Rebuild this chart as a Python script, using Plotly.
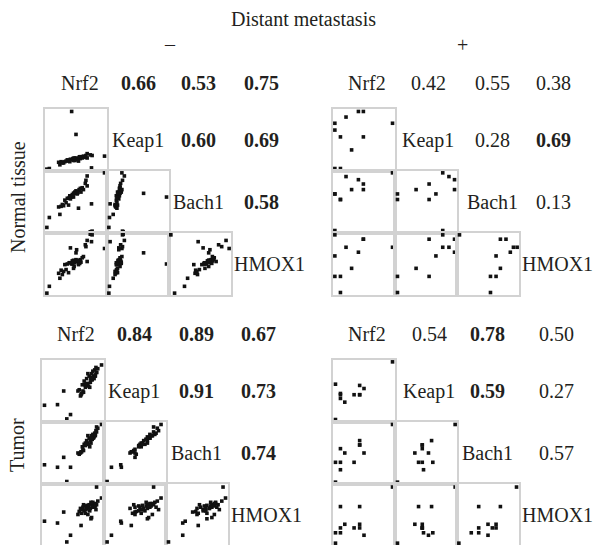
import plotly.graph_objects as go

GENES = ["Nrf2", "Keap1", "Bach1", "HMOX1"]
ROW_TITLES = ["Normal tissue", "Tumor"]
COL_TITLES = ["–", "+"]
HEADER = "Distant metastasis"

# ---- sample values (relative expression) ----
# Normal tissue, distant metastasis −
NN_NRF2 = [.43, .50, .96, .03, .07, .75, .73, .68, .24, .22, .26, .30, .34, .38, .41, .40, .44, .46, .48, .50, .52,
           .54, .55, .57, .58, .60, .62, .46, .36, .32, .65, .66, .68, .51, .45, .39, .56, .53, .28, .76, .47]
NN_KEAP1 = [.96, .59, .24, .03, .04, .05, .26, .28, .10, .14, .15, .13, .16, .17, .19, .15, .18, .20, .17, .21, .19,
            .16, .22, .20, .23, .21, .24, .17, .18, .15, .22, .25, .21, .19, .20, .16, .23, .18, .13, .25, .21]
NN_BACH1 = [.58, .64, .97, .09, .25, .47, .02, .92, .30, .42, .43, .44, .49, .45, .55, .60, .62, .64, .66, .68, .63,
            .40, .70, .72, .66, .73, .70, .58, .56, .53, .80, .85, .76, .66, .60, .57, .69, .65, .46, .03, .64]
NN_HMOX1 = [.50, .68, .75, .03, .14, .86, .98, .88, .27, .35, .40, .38, .41, .36, .76, .52, .55, .56, .52, .57, .54,
            .49, .55, .57, .53, .60, .62, .43, .50, .49, .81, .78, .54, .73, .50, .52, .51, .56, .33, .97, .46]

# Normal tissue, distant metastasis +
NP_NRF2 = [.96, .21, .41, .49, .49, .30, .03, .12, .12, .03, .03]
NP_KEAP1 = [.77, .87, .96, .55, .96, .34, .66, .04, .55, .77, .04]
NP_BACH1 = [.97, .91, .86, .79, .70, .70, .63, .54, .54, .04, .63]
NP_HMOX1 = [.77, .77, .69, .90, .90, .43, .63, .04, .30, .97, .30]

# Tumor, distant metastasis −
TN_NRF2 = [.96, .88, .04, .25, .46, .40, .35, .63, .79, .60, .62, .65, .66, .68, .70, .72, .73, .75, .76, .78,
           .80, .81, .82, .84, .85, .86, .87, .88, .90, .70, .74, .77, .83, .67, .58, .71, .79, .86, .64, .80]
TN_KEAP1 = [.92, .80, .27, .28, .12, .05, .50, .44, .70, .52, .42, .60, .50, .66, .56, .70, .62, .58, .74, .64,
            .78, .68, .82, .70, .84, .74, .88, .80, .86, .60, .78, .56, .74, .48, .50, .62, .68, .76, .46, .72]
TN_BACH1 = [.96, .92, .31, .27, .27, .04, .43, .52, .66, .48, .50, .60, .56, .64, .62, .70, .66, .64, .74, .70,
            .78, .72, .80, .76, .82, .80, .86, .84, .90, .66, .78, .60, .74, .54, .50, .64, .72, .78, .52, .74]
TN_HMOX1 = [.77, .95, .39, .36, .16, .05, .54, .32, .43, .55, .60, .58, .62, .56, .64, .60, .65, .62, .66, .60,
            .68, .64, .70, .66, .62, .68, .58, .66, .72, .52, .50, .56, .62, .66, .50, .58, .70, .64, .52, .45]

# Tumor, distant metastasis +
TP_NRF2 = [.96, .04, .43, .12, .12, .43, .50, .19, .34, .04, .12, .43]
TP_KEAP1 = [.97, .04, .59, .38, .44, .44, .54, .32, .44, .61, .46, .44]
TP_BACH1 = [.96, .03, .70, .35, .57, .63, .50, .50, .35, .35, .23, .63]
TP_HMOX1 = [.95, .03, .63, .63, .28, .34, .16, .34, .28, .20, .20, .28]

# correlation coefficients, upper triangle row by row
NN_R = [0.66, 0.53, 0.75, 0.60, 0.69, 0.58]
NN_SIG = [1, 1, 1, 1, 1, 1]
NP_R = [0.42, 0.55, 0.38, 0.28, 0.69, 0.13]
NP_SIG = [0, 0, 0, 0, 1, 0]
TN_R = [0.84, 0.89, 0.67, 0.91, 0.73, 0.74]
TN_SIG = [1, 1, 1, 1, 1, 1]
TP_R = [0.54, 0.78, 0.50, 0.59, 0.27, 0.57]
TP_SIG = [0, 1, 0, 1, 0, 0]

GROUPS = [
    dict(data=[NN_NRF2, NN_KEAP1, NN_BACH1, NN_HMOX1], r=NN_R, sig=NN_SIG),
    dict(data=[NP_NRF2, NP_KEAP1, NP_BACH1, NP_HMOX1], r=NP_R, sig=NP_SIG),
    dict(data=[TN_NRF2, TN_KEAP1, TN_BACH1, TN_HMOX1], r=TN_R, sig=TN_SIG),
    dict(data=[TP_NRF2, TP_KEAP1, TP_BACH1, TP_HMOX1], r=TP_R, sig=TP_SIG),
]

# ---- layout geometry (pixels) ----
W, H = 594, 545
CELL = 62
GEOM = [
    dict(x0=45, y0=109, tx=[80, 138, 199, 261]),
    dict(x0=333, y0=109, tx=[367, 428, 492, 553]),
    dict(x0=42, y0=360, tx=[76, 134, 196, 258]),
    dict(x0=333, y0=360, tx=[367, 429, 487, 556]),
]
FONT = "Liberation Serif"
TXT = "#231f20"
FS = 20


def px(x):
    return x / W


def py(y):
    return 1 - y / H


fig = go.Figure()
annotations = []
layout_axes = {}
n = 0
for g, geo in zip(GROUPS, GEOM):
    x0, y0 = geo["x0"], geo["y0"]
    for i in range(1, 4):
        for j in range(i):
            n += 1
            xd = [max(0, px(x0 + j * CELL)), min(1, px(x0 + (j + 1) * CELL))]
            yd = [max(0, py(y0 + i * CELL)), min(1, py(y0 + (i - 1) * CELL))]
            ax = dict(range=[0, 1], domain=xd, showticklabels=False, showgrid=False, zeroline=False,
                      showline=True, mirror=True, linecolor="#d2d2d2", linewidth=1.5, ticks="",
                      fixedrange=True)
            ay = dict(ax)
            ay["domain"] = yd
            sfx = "" if n == 1 else str(n)
            ax["anchor"] = "y" + sfx
            ay["anchor"] = "x" + sfx
            layout_axes["xaxis" + sfx] = ax
            layout_axes["yaxis" + sfx] = ay
            fig.add_trace(go.Scatter(
                x=g["data"][j], y=g["data"][i], mode="markers", cliponaxis=False,
                marker=dict(symbol="square", size=3.6, color="#111111", line=dict(width=0)),
                xaxis="x" + sfx, yaxis="y" + sfx, showlegend=False, hoverinfo="skip"))
    # diagonal labels and coefficients
    row_y = [y0 - 26] + [y0 + (k - 1) * CELL + 31 for k in range(1, 4)]
    for k, gname in enumerate(GENES):
        if k == 3:
            annotations.append(dict(x=px(x0 + 3 * CELL + 1), y=py(row_y[k]), text=gname, xanchor="left",
                                    yanchor="middle", showarrow=False, xref="paper", yref="paper",
                                    font=dict(family=FONT, size=FS, color=TXT)))
        else:
            annotations.append(dict(x=px(geo["tx"][k]), y=py(row_y[k]), text=gname, xanchor="center",
                                    yanchor="middle", showarrow=False, xref="paper", yref="paper",
                                    font=dict(family=FONT, size=FS, color=TXT)))
    idx = 0
    for a in range(4):
        for b in range(a + 1, 4):
            val = "%.2f" % g["r"][idx]
            txt = "<b>%s</b>" % val if g["sig"][idx] else val
            annotations.append(dict(x=px(geo["tx"][b]), y=py(row_y[a]), text=txt, xanchor="center",
                                    yanchor="middle", showarrow=False, xref="paper", yref="paper",
                                    font=dict(family=FONT, size=FS, color=TXT)))
            idx += 1

# headers
annotations.append(dict(x=px(303), y=py(19), text=HEADER, showarrow=False, xref="paper", yref="paper",
                        xanchor="center", yanchor="middle", font=dict(family=FONT, size=FS, color=TXT)))
annotations.append(dict(x=px(170), y=py(44), text=COL_TITLES[0], showarrow=False, xref="paper", yref="paper",
                        xanchor="center", yanchor="middle", font=dict(family=FONT, size=FS, color=TXT)))
annotations.append(dict(x=px(462), y=py(45), text=COL_TITLES[1], showarrow=False, xref="paper", yref="paper",
                        xanchor="center", yanchor="middle", font=dict(family=FONT, size=FS, color=TXT)))
annotations.append(dict(x=px(18), y=py(197), text=ROW_TITLES[0], textangle=-90, showarrow=False, xref="paper",
                        yref="paper", xanchor="center", yanchor="middle", font=dict(family=FONT, size=FS, color=TXT)))
annotations.append(dict(x=px(17), y=py(445), text=ROW_TITLES[1], textangle=-90, showarrow=False, xref="paper",
                        yref="paper", xanchor="center", yanchor="middle", font=dict(family=FONT, size=FS, color=TXT)))

fig.update_layout(width=W, height=H, margin=dict(l=0, r=0, t=0, b=0), paper_bgcolor="white",
                  plot_bgcolor="white", showlegend=False, annotations=annotations, **layout_axes)

fig.write_html("out.html", config={"displayModeBar": False},
               post_script="document.body.style.margin='0px';document.body.style.overflow='hidden';")
